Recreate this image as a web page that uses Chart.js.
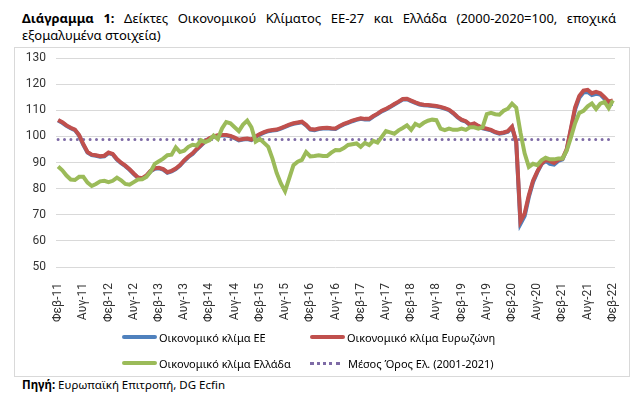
<!DOCTYPE html>
<html>
<head>
<meta charset="utf-8">
<script src="https://cdn.jsdelivr.net/npm/chart.js@4.4.0/dist/chart.umd.min.js"></script>
<style>
  html, body { margin: 0; padding: 0; background: #fff; }
  body { width: 640px; height: 394px; position: relative; overflow: hidden; font-family: 'Noto Sans', sans-serif; color: #000; }
  .title { position: absolute; left: 22px; width: 594px; font-size: 13px; line-height: 17px; }
  #t1 { top: 10px; text-align: justify; text-align-last: justify; }
  #t2 { top: 27px; }
  .frame { position: absolute; left: 14px; top: 47px; width: 616px; height: 330px; border: 1px solid #d9d9d9; box-sizing: border-box; }
  #chartBox { position: absolute; left: 0; top: 40px; width: 640px; height: 290px; }
  .item { position: absolute; display: flex; align-items: center; font-size: 11px; white-space: nowrap; height: 16px; color: #000; }
  .swatch { display: inline-block; height: 4px; width: 35px; margin-right: 2px; border-radius: 2px; }
  .dots { display: inline-block; height: 0; width: 30px; margin-right: 8px; border-top: 3px dotted; }
  .source { position: absolute; left: 22px; top: 377px; font-size: 11.5px; }
</style>
</head>
<body>
<div class="title" id="t1"><b>Διάγραμμα 1:</b> Δείκτες Οικονομικού Κλίματος ΕΕ-27 και Ελλάδα (2000-2020=100, εποχικά</div>
<div class="title" id="t2">εξομαλυμένα στοιχεία)</div>
<div class="frame"></div>
<div id="chartBox"><canvas id="climateChart"></canvas></div>
<div id="legend"></div>
<div class="source"><b>Πηγή:</b> Ευρωπαϊκή Επιτροπή, DG Ecfin</div>

<script>
// monthly data, Feb 2011 .. Feb 2022
var monthNames = ['Ιαν', 'Φεβ', 'Μαρ', 'Απρ', 'Μαϊ', 'Ιουν', 'Ιουλ', 'Αυγ', 'Σεπ', 'Οκτ', 'Νοε', 'Δεκ'];
var startYear = 2011, startMonth = 1;   // Φεβ-11
var labelEvery = 6;

var euClimate = [
    106.1, 105.2, 104, 103.1, 102.4, 100.3, 96.8, 93.8, 92.8, 92.6,
    92.2, 92.4, 93.6, 93.1, 91.1, 89.7, 88.6, 87.2, 85.6, 84.1,
    83.8, 84.8, 86.6, 87.6, 87.8, 87.3, 86.1, 86.6, 87.5, 88.8,
    90.6, 92.1, 93.3, 95, 96.5, 98, 99.1, 99.8, 100.2, 100.3,
    100.3, 100, 99.3, 98.5, 98.8, 99, 98.6, 99.8, 100.7, 101.4,
    102, 102.2, 102.4, 103, 103.6, 104.3, 104.8, 105.1, 105.4, 104.2,
    102.6, 102.4, 102.8, 103, 103.1, 102.9, 102.8, 103.8, 104.6, 105.2,
    105.8, 106.3, 106.7, 106.5, 106.5, 107.6, 108.5, 109.6, 110.3, 111.2,
    112.2, 113.1, 114.1, 114.2, 113.5, 112.8, 112.2, 111.9, 111.8, 111.6,
    111.4, 111.1, 110.6, 110, 108.8, 107.3, 106.2, 105.6, 104.3, 104.8,
    103.8, 103.1, 102.7, 102.3, 101.5, 101, 101.3, 101.8, 103.5, 97.6,
    66.5, 69.5, 76.8, 82.5, 86.2, 89.3, 90.7, 89.5, 89.2, 90.6,
    91.2, 94.8, 102.5, 110.3, 114.8, 116.8, 117, 115.8, 116.3, 116,
    114.4, 112.4, 112.5
];

var eurozoneClimate = [
    106.3, 105.4, 104.2, 103.3, 102.6, 100.5, 97, 94, 93, 92.8,
    92.4, 92.6, 93.8, 93.3, 91.3, 89.9, 88.8, 87.4, 85.8, 84.3,
    84, 85, 86.8, 87.8, 88, 87.5, 86.3, 86.8, 87.7, 89,
    90.8, 92.3, 93.5, 95.2, 96.7, 98.2, 99.3, 100, 100.4, 100.5,
    100.5, 100.2, 99.5, 98.7, 99, 99.2, 98.8, 100, 100.9, 101.6,
    102.2, 102.4, 102.6, 103.2, 103.8, 104.5, 105, 105.3, 105.6, 104.4,
    102.8, 102.6, 103, 103.2, 103.3, 103.1, 103, 104, 104.8, 105.4,
    106, 106.5, 106.9, 106.7, 106.7, 107.8, 108.7, 109.8, 110.5, 111.4,
    112.4, 113.3, 114.3, 114.4, 113.7, 113, 112.4, 112.1, 112, 111.8,
    111.6, 111.3, 110.8, 110.2, 109, 107.5, 106.4, 105.8, 104.5, 105,
    104, 103.3, 102.9, 102.5, 101.7, 101.2, 101.5, 102, 103.7, 98,
    67.5, 70.5, 77.5, 83, 86.5, 89.5, 91, 90.5, 89.8, 91,
    91.5, 95, 103, 111, 115.5, 117.5, 117.8, 116.5, 117, 116.5,
    115, 113.3, 113.8
];

var greeceClimate = [
    88.5, 87, 85, 83.5, 83.3, 84.5, 84.5, 82.3, 81, 81.8,
    82.8, 83, 82.5, 83, 84.2, 83.2, 81.8, 81.5, 82.5, 83.5,
    83.6, 84.5, 86.5, 89.5, 90.5, 91.5, 92.8, 93, 95.8, 94,
    94.5, 96, 96.8, 96.5, 98.5, 97.8, 98.5, 100.3, 99, 103,
    105.5, 105, 103.5, 102, 104.5, 106, 103.5, 98, 99, 97.5,
    96, 91.5, 86, 82, 79, 84, 89, 90.3, 91, 94,
    92.3, 92.5, 92.8, 92.5, 92.5, 93.8, 94.8, 94.7, 95.5, 96.7,
    97, 97.3, 96, 97.5, 96.7, 98.3, 97.6, 99.8, 102, 101.5,
    101, 102.3, 103.2, 104.2, 102.5, 104.8, 104, 105.2, 106, 106.4,
    106.2, 103, 102.4, 103, 102.5, 102.5, 103, 102.5, 103.5, 103.5,
    103, 103.5, 108.5, 109, 108.5, 108.3, 109.8, 110.6, 112.5, 111,
    101.5, 93.5, 88.3, 89.5, 89, 90.8, 91.8, 91.2, 91.2, 91.5,
    91.5, 94.5, 99.5, 105, 109, 109.8, 111.5, 112.6, 110.5, 112.5,
    113.2, 110.8, 113.8
];

var greeceAverage = 98.8;   // Μέσος Όρος Ελ. (2001-2021)

var yMin = 50, yMax = 130, yStep = 10;

(function () {
    var labels = [];
    for (var i = 0; i < eurozoneClimate.length; i++) {
        var m = startMonth + i;
        var y = startYear + Math.floor(m / 12);
        labels.push(monthNames[m % 12] + '-' + String(y).slice(2));
    }

    var datasets = [{
        label: 'Οικονομικό κλίμα ΕΕ',
        data: euClimate,
        borderColor: '#4f81bd',
        borderWidth: 4,
        order: 2
    }, {
        label: 'Οικονομικό κλίμα Ευρωζώνη',
        data: eurozoneClimate,
        borderColor: '#c0504d',
        borderWidth: 4,
        order: 1
    }, {
        label: 'Οικονομικό κλίμα Ελλάδα',
        data: greeceClimate,
        borderColor: '#9bbb59',
        borderWidth: 4,
        order: 0
    }, {
        label: 'Μέσος Όρος Ελ. (2001-2021)',
        data: labels.map(function () { return greeceAverage; }),
        borderColor: '#7e6ba6',
        borderWidth: 3,
        borderDash: [0, 6.4],
        borderCapStyle: 'round',
        order: 3,
        dotted: true
    }];

    var tickFont = { family: 'Roboto', size: 12 };

    new Chart(document.getElementById('climateChart'), {
        type: 'line',
        data: { labels: labels, datasets: datasets },
        options: {
            responsive: true,
            maintainAspectRatio: false,
            animation: false,
            events: [],
            elements: { point: { radius: 0 }, line: { tension: 0 } },
            layout: { padding: { top: 18, right: 25, left: 0, bottom: 0 } },
            plugins: { legend: { display: false }, tooltip: { enabled: false } },
            scales: {
                x: {
                    offset: true,
                    grid: { display: false },
                    border: { display: false },
                    ticks: {
                        autoSkip: false,
                        minRotation: 90,
                        maxRotation: 90,
                        padding: 8,
                        color: '#333',
                        font: tickFont,
                        callback: function (val, idx) {
                            return idx % labelEvery === 0 ? this.getLabelForValue(val) : '';
                        }
                    },
                    afterFit: function (s) { s.height = 63; }
                },
                y: {
                    min: yMin,
                    max: yMax,
                    grid: { color: '#d9d9d9', drawTicks: false },
                    border: { display: false },
                    ticks: { stepSize: yStep, padding: 10, color: '#333', font: tickFont },
                    afterFit: function (s) { s.width = 56; }
                }
            }
        }
    });

    // html legend, two columns
    var legend = document.getElementById('legend');
    var cols = [122, 310], rows = [329, 355];
    datasets.forEach(function (ds, i) {
        var item = document.createElement('div');
        item.className = 'item';
        item.style.left = cols[i % 2] + 'px';
        item.style.top = rows[Math.floor(i / 2)] + 'px';
        var sw = document.createElement('span');
        if (ds.dotted) {
            sw.className = 'dots';
            sw.style.borderTopColor = ds.borderColor;
        } else {
            sw.className = 'swatch';
            sw.style.background = ds.borderColor;
        }
        item.appendChild(sw);
        item.appendChild(document.createTextNode(ds.label));
        legend.appendChild(item);
    });
})();
</script>
</body>
</html>
